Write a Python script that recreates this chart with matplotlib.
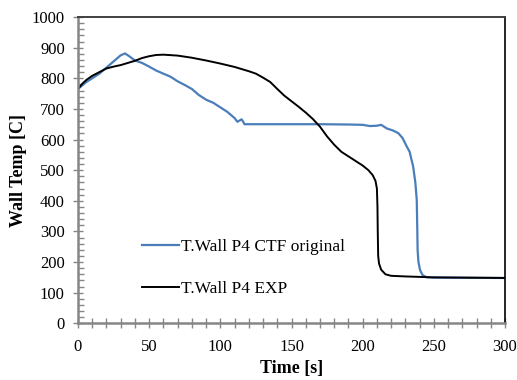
import matplotlib
matplotlib.use("Agg")
import matplotlib.pyplot as plt
from matplotlib.ticker import MultipleLocator

plt.rcParams['font.family'] = ['Liberation Serif', 'DejaVu Serif']

# Wall temperature, CTF original simulation
ctf_time = [0, 5, 10, 15, 20, 25, 30, 33, 36, 40, 45, 50, 55, 60, 65, 70, 75, 80,
            85, 90, 95, 100, 105, 110, 112, 115, 117, 130, 150, 170, 190, 200,
            205, 210, 213, 217, 221, 225, 228, 231, 233, 235.5, 237, 238, 238.4,
            238.6, 239.2, 240.3, 242, 245, 250, 300]
ctf_temp = [765, 785, 800, 815, 835, 855, 875, 881, 872, 858, 850, 838, 825, 815,
            805, 790, 778, 765, 745, 730, 720, 705, 690, 670, 658, 666, 650, 650,
            650, 650, 649, 648, 644, 645, 648, 636, 630, 621, 605, 577, 560, 511,
            460, 403, 300, 239, 200, 174, 158, 150, 149, 148]

# Wall temperature, experiment
exp_time = [0, 3, 6, 10, 15, 20, 25, 30, 35, 40, 45, 50, 55, 60, 70, 80, 90, 100,
            110, 120, 125, 130, 135, 140, 145, 150, 155, 160, 165, 170, 175, 180,
            185, 190, 195, 200, 204, 207, 209, 210, 210.4, 210.6, 210.9, 211.5,
            213, 216, 220, 230, 250, 300]
exp_temp = [765, 782, 795, 808, 820, 832, 838, 843, 850, 857, 866, 872, 876, 877,
            874, 867, 858, 848, 837, 823, 815, 802, 788, 765, 743, 725, 707, 688,
            667, 642, 610, 583, 560, 545, 530, 515, 500, 484, 465, 440, 380, 300,
            220, 195, 175, 160, 155, 153, 150, 148]

fig = plt.figure(figsize=(5.17, 3.8), dpi=100)
ax = fig.add_axes([78 / 517, 1 - 323.3 / 380, 427 / 517, 306.3 / 380])

ax.plot(ctf_time, ctf_temp, color='#4A7EBB', lw=1.6, label='T.Wall P4 CTF original')
ax.plot(exp_time, exp_temp, color='black', lw=1.4, label='T.Wall P4 EXP')

ax.set_xlim(0, 300)
ax.set_ylim(0, 1000)
ax.xaxis.set_major_locator(MultipleLocator(50))
ax.xaxis.set_minor_locator(MultipleLocator(10))
ax.yaxis.set_major_locator(MultipleLocator(100))
ax.yaxis.set_minor_locator(MultipleLocator(20))

ax.tick_params(axis='both', which='major', direction='inout', length=7,
               width=1, color='#868686', labelsize=12)
ax.tick_params(axis='x', which='major', pad=8)
ax.tick_params(axis='y', which='major', pad=6)
ax.tick_params(axis='x', which='minor', direction='inout', length=7,
               width=1, color='#868686')
ax.tick_params(axis='y', which='minor', direction='in', length=4,
               width=1, color='#868686')

for side in ('left', 'bottom'):
    ax.spines[side].set_color('#868686')
    ax.spines[side].set_linewidth(1.8)
ax.spines['top'].set_color('#404040')
ax.spines['top'].set_linewidth(1.4)
ax.spines['right'].set_color('black')
ax.spines['right'].set_linewidth(1.2)

ax.set_xlabel('Time [s]', fontsize=13, fontweight='bold')
ax.set_ylabel('Wall Temp [C]', fontsize=13, fontweight='bold')
ax.xaxis.set_label_coords(0.5, -0.12)
ax.yaxis.set_label_coords(-0.12, 0.5)

ax.legend(loc='center left', bbox_to_anchor=(0.15, 0.18), frameon=False,
          fontsize=12.5, handlelength=2.1, handletextpad=0.15,
          labelspacing=1.5, borderpad=0, borderaxespad=0)

fig.savefig('out.png', dpi=100)
